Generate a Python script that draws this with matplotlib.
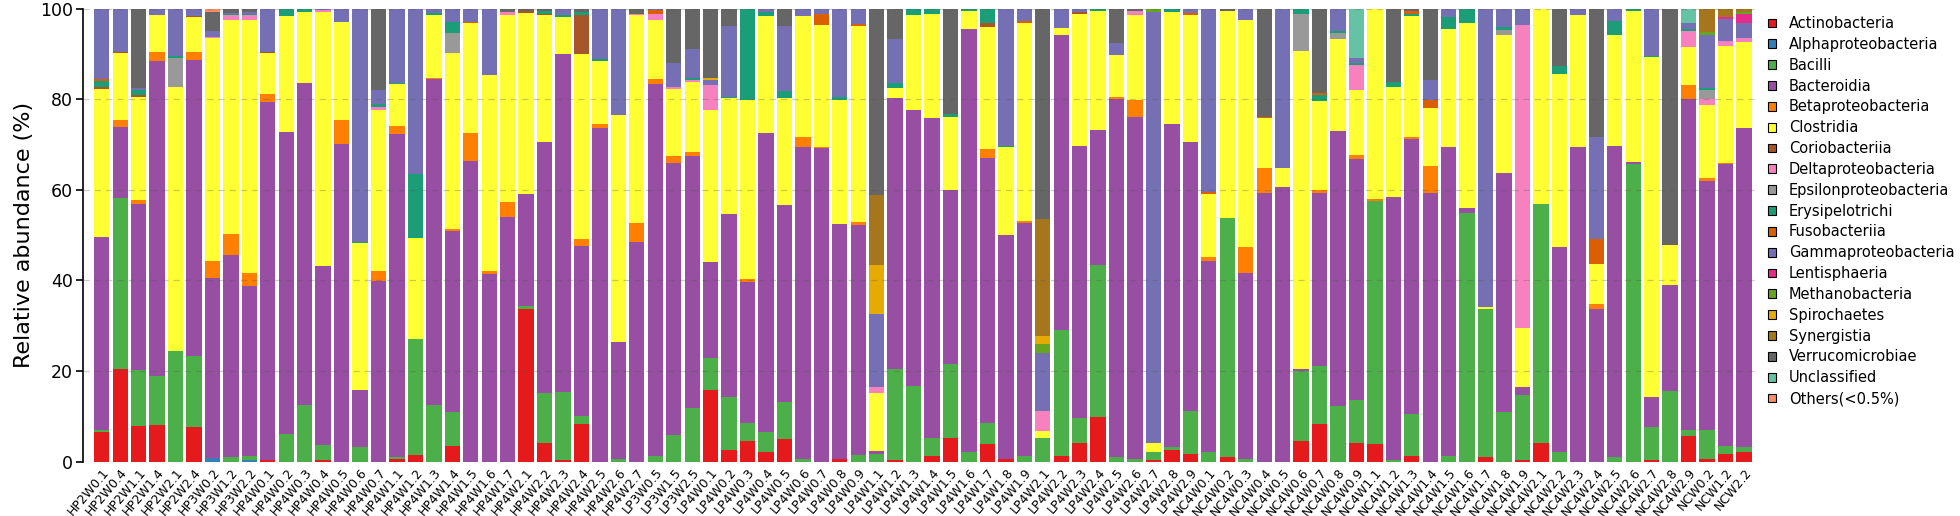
import matplotlib
matplotlib.use("Agg")
import matplotlib.pyplot as plt
import numpy as np
from matplotlib.patches import Patch

samples = [
    "HP2W0.1", "HP2W0.4", "HP2W1.1", "HP2W1.4", "HP2W2.1", "HP2W2.4",
    "HP3W0.2", "HP3W1.2", "HP3W2.2",
    "HP4W0.1", "HP4W0.2", "HP4W0.3", "HP4W0.4", "HP4W0.5", "HP4W0.6", "HP4W0.7",
    "HP4W1.1", "HP4W1.2", "HP4W1.3", "HP4W1.4", "HP4W1.5", "HP4W1.6", "HP4W1.7",
    "HP4W2.1", "HP4W2.2", "HP4W2.3", "HP4W2.4", "HP4W2.5", "HP4W2.6", "HP4W2.7",
    "LP3W0.5", "LP3W1.5", "LP3W2.5",
    "LP4W0.1", "LP4W0.2", "LP4W0.3", "LP4W0.4", "LP4W0.5", "LP4W0.6", "LP4W0.7", "LP4W0.8", "LP4W0.9",
    "LP4W1.1", "LP4W1.2", "LP4W1.3", "LP4W1.4", "LP4W1.5", "LP4W1.6", "LP4W1.7", "LP4W1.8", "LP4W1.9",
    "LP4W2.1", "LP4W2.2", "LP4W2.3", "LP4W2.4", "LP4W2.5", "LP4W2.6", "LP4W2.7", "LP4W2.8", "LP4W2.9",
    "NC4W0.1", "NC4W0.2", "NC4W0.3", "NC4W0.4", "NC4W0.5", "NC4W0.6", "NC4W0.7", "NC4W0.8", "NC4W0.9",
    "NC4W1.1", "NC4W1.2", "NC4W1.3", "NC4W1.4", "NC4W1.5", "NC4W1.6", "NC4W1.7", "NC4W1.8", "NC4W1.9",
    "NC4W2.1", "NC4W2.2", "NC4W2.3", "NC4W2.4", "NC4W2.5", "NC4W2.6", "NC4W2.7", "NC4W2.8", "NC4W2.9",
    "NCW0.2", "NCW1.2", "NCW2.2",
]

# dense classes, one value per sample (%)
actinobacteria = [
    6.6, 20.4, 7.9, 8.1, 0, 7.6, 0, 0, 0, 0.3,
    0, 0, 0.3, 0, 0, 0, 0.5, 1.5, 0, 3.5,
    0, 0, 0, 33.7, 4.2, 0.4, 8.2, 0, 0, 0,
    0, 0, 0, 15.8, 2.6, 4.6, 2.2, 4.9, 0, 0,
    0.6, 0, 0, 0.4, 0, 1.3, 5.3, 0, 3.8, 0.6,
    0, 0, 1.3, 4.2, 9.8, 0, 0, 0.4, 2.6, 1.7,
    0, 0.9, 0, 0, 0, 4.6, 8.2, 0, 4.2, 3.8,
    0, 1.3, 0, 0, 0, 1.0, 0, 0.4, 4.0, 0,
    0, 0, 0, 0, 0.4, 0, 5.7, 0.5, 1.7, 2.2,
]
bacilli = [
    0.4, 37.9, 12.4, 10.8, 24.4, 15.7, 0, 1.0, 1.0, 0,
    6.1, 12.5, 3.3, 0, 3.3, 0, 0.4, 25.6, 12.5, 7.4,
    0, 0, 0, 0.6, 11.0, 14.9, 1.8, 0, 0.5, 0,
    1.3, 5.9, 11.8, 7.1, 11.6, 4.0, 4.4, 8.3, 0.6, 0,
    0, 1.5, 1.7, 20.0, 16.6, 3.8, 16.2, 2.2, 4.8, 0,
    1.3, 5.3, 27.8, 5.5, 33.7, 1.1, 0.6, 1.6, 0.6, 9.5,
    2.1, 52.9, 0.6, 0, 0, 15.4, 13.0, 12.3, 9.4, 53.8,
    0.4, 9.2, 0, 1.3, 55.0, 32.7, 10.9, 14.4, 52.9, 2.1,
    0, 0, 1.1, 65.8, 7.2, 15.6, 1.3, 6.5, 1.8, 1.0,
]
bacteroidia = [
    42.7, 15.7, 36.6, 69.5, 0, 65.4, 39.8, 44.7, 37.5, 79.2,
    66.8, 71.2, 39.7, 70.2, 12.5, 39.8, 71.5, 0, 72.0, 40.1,
    66.5, 41.4, 54.0, 24.9, 55.4, 74.7, 37.6, 73.6, 25.8, 48.4,
    82.1, 60.0, 55.8, 21.2, 40.5, 31.1, 66.1, 43.4, 69.0, 69.2,
    51.9, 50.7, 0.7, 59.9, 61.1, 70.9, 38.4, 93.4, 58.4, 49.5,
    51.5, 0, 65.2, 60.1, 29.7, 78.9, 75.6, 0, 71.4, 59.5,
    42.1, 0, 41.0, 59.4, 60.6, 0.4, 38.1, 60.8, 53.2, 0,
    58.0, 60.8, 59.3, 68.3, 1.0, 0, 52.8, 1.6, 0, 45.3,
    69.4, 33.7, 68.6, 0.4, 6.6, 23.3, 73.0, 54.9, 62.2, 70.5,
]
betaproteobacteria = [
    0, 1.5, 0.9, 2.0, 0, 1.8, 3.7, 4.6, 2.8, 1.7,
    0, 0, 0, 5.3, 0, 2.2, 1.7, 0, 0.3, 0.4,
    6.0, 0.7, 3.4, 0, 0, 0, 1.5, 1.0, 0, 4.3,
    1.1, 1.7, 0.7, 0, 0, 0.6, 0, 0, 2.1, 0.4,
    0, 0.7, 0, 0, 0, 0, 0, 0, 2.1, 0,
    0.4, 0, 0, 0, 0, 0.6, 3.7, 0, 0, 0,
    1.1, 0, 5.7, 5.4, 0, 0, 0.6, 0, 0.9, 0.4,
    0, 0.5, 5.9, 0, 0, 0, 0, 0, 0, 0,
    0, 1.2, 0, 0, 0, 0, 3.3, 0.7, 0.3, 0,
]
clostridia = [
    32.6, 14.7, 22.8, 8.3, 58.4, 7.7, 49.3, 47.3, 56.0, 9.0,
    25.5, 15.7, 56.1, 21.7, 32.4, 35.7, 9.4, 22.3, 13.8, 38.9,
    24.4, 43.4, 41.3, 39.9, 28.0, 8.3, 40.9, 13.9, 50.3, 45.9,
    13.1, 14.7, 15.6, 33.5, 25.6, 39.5, 25.8, 23.8, 26.8, 26.8,
    27.4, 43.4, 12.8, 2.2, 21.0, 23.0, 16.2, 4.0, 26.9, 19.3,
    43.7, 1.5, 1.5, 29.2, 26.4, 9.2, 18.8, 2.2, 24.8, 28.0,
    13.8, 45.8, 50.2, 11.0, 4.3, 70.4, 19.8, 20.2, 14.4, 42.0,
    24.4, 26.7, 12.9, 25.9, 40.8, 0.4, 30.6, 13.1, 43.1, 38.3,
    29.3, 8.8, 24.5, 33.4, 75.1, 9.0, 8.3, 16.2, 25.8, 18.9,
]
erysipelotrichi = [
    1.3, 0, 1.3, 0, 0.4, 0, 0, 0.3, 0.4, 0,
    1.6, 0.6, 0, 0, 0.2, 0.6, 0.2, 14.2, 0.6, 2.4,
    0, 0, 0, 0, 0.5, 0.4, 0.7, 0.4, 0, 0,
    0, 0, 0.4, 0, 0.2, 20.2, 0.8, 1.5, 0, 0,
    0.7, 0, 0, 1.1, 1.3, 1.0, 0.7, 0.4, 3.1, 0.4,
    0, 0, 0, 0, 0.4, 0, 0, 0, 0.6, 0,
    0, 0, 0, 0, 0, 1.0, 1.3, 0.5, 0.5, 0,
    1.1, 0.5, 0, 2.8, 3.2, 0, 0.6, 0, 0, 1.8,
    0, 0, 3.2, 0.4, 0.4, 0, 0.4, 0.5, 0, 0,
]
gammaproteobacteria = [
    15.4, 9.5, 0.4, 1.3, 10.5, 1.5, 1.3, 0.2, 0.3, 9.6,
    0, 0, 0.3, 2.8, 51.6, 3.2, 16.3, 36.4, 0.8, 2.9,
    2.8, 14.5, 0, 0, 0, 1.3, 0, 11.1, 23.4, 0,
    0.2, 5.4, 6.5, 1.3, 15.8, 0, 0.7, 14.4, 1.5, 1.0,
    19.4, 3.3, 16.2, 9.7, 0, 0, 0, 0, 0, 30.2,
    2.7, 12.7, 4.2, 0.6, 0, 2.6, 0, 95.2, 0, 0.9,
    40.5, 0, 2.5, 0, 35.1, 0, 0, 4.9, 1.0, 0,
    0, 0, 4.4, 1.7, 0, 65.9, 4.0, 3.5, 0, 0,
    1.3, 22.5, 2.6, 0, 10.3, 0, 1.3, 11.8, 4.9, 3.2,
]
verrucomicrobiae = [
    0, 0, 17.4, 0, 0, 0, 4.2, 0.9, 0.7, 0,
    0, 0, 0, 0, 0, 17.8, 0, 0, 0, 0,
    0, 0, 0.7, 0.4, 0.5, 0, 0.6, 0, 0, 1.0,
    0, 11.9, 8.8, 15.2, 3.7, 0, 0, 3.7, 0, 0,
    0, 0, 41.2, 6.7, 0, 0, 23.2, 0, 0, 0,
    0, 46.3, 0, 0, 0, 7.6, 0.4, 0, 0, 0,
    0, 0.4, 0, 23.8, 0, 0, 18.6, 0, 0, 0,
    16.1, 0.5, 15.7, 0, 0, 0, 0, 0, 0, 12.5,
    0, 28.4, 0, 0, 0, 52.1, 0, 0, 0, 0,
]

# minor classes, only the samples where they show up
alphaproteobacteria = {"HP3W0.2": 0.7, "HP3W2.2": 0.3}
coriobacteriia = {"HP2W0.1": 0.5, "HP2W0.4": 0.3, "HP2W1.1": 0.3, "HP2W2.4": 0.3,
                  "HP4W0.1": 0.2, "HP4W2.1": 0.5, "HP4W2.2": 0.4, "HP4W2.4": 8.7,
                  "LP4W1.7": 0.9, "LP4W2.3": 0.4}
deltaproteobacteria = {"HP3W0.2": 0.3, "HP3W1.2": 1.0, "HP3W2.2": 1.0, "HP4W0.4": 0.3,
                       "HP4W0.7": 0.7, "HP4W1.7": 0.6, "HP4W2.7": 0.4, "LP3W0.5": 1.3,
                       "LP3W1.5": 0.4, "LP3W2.5": 0.4, "LP4W0.1": 5.5, "LP4W1.1": 1.3,
                       "LP4W2.1": 4.4, "LP4W2.6": 0.9, "NC4W0.9": 5.5, "NC4W1.9": 67.0,
                       "NC4W2.9": 3.5, "NCW0.2": 1.3, "NCW1.2": 1.1, "NCW2.2": 1.0}
epsilonproteobacteria = {"HP2W2.1": 6.3, "HP4W1.4": 4.4, "NC4W0.6": 8.2, "NC4W0.8": 1.3,
                         "NC4W1.8": 1.1, "NCW0.2": 1.9}
fusobacteriia = {"HP2W0.1": 0.5, "HP4W1.5": 0.3, "LP3W0.5": 0.9, "LP4W0.7": 2.6,
                 "LP4W0.9": 0.4, "LP4W1.9": 0.4, "LP4W2.9": 0.4, "NC4W0.1": 0.4,
                 "NC4W0.4": 0.4, "NC4W0.7": 0.4, "NC4W1.3": 0.5, "NC4W1.4": 1.8,
                 "NC4W2.4": 5.4}
lentisphaeria = {"NCW1.2": 0.5, "NCW2.2": 2.0}
methanobacteria = {"LP4W2.1": 2.0, "LP4W2.7": 0.6, "NCW0.2": 0.7, "NCW2.2": 0.6}
spirochaetes = {"LP4W0.1": 0.4, "LP4W1.1": 10.8, "LP4W2.1": 1.8}
synergistia = {"LP4W1.1": 15.3, "LP4W2.1": 26.0, "NCW0.2": 5.0, "NCW1.2": 1.7, "NCW2.2": 0.6}
unclassified = {"NC4W0.9": 10.9, "NC4W2.9": 3.2}
others = {"HP3W0.2": 0.7}


def full(d):
    return [d.get(s, 0) for s in samples]


taxa = [
    ("Actinobacteria", actinobacteria, "#E41A1C"),
    ("Alphaproteobacteria", full(alphaproteobacteria), "#377EB8"),
    ("Bacilli", bacilli, "#4DAF4A"),
    ("Bacteroidia", bacteroidia, "#984EA3"),
    ("Betaproteobacteria", betaproteobacteria, "#FF7F00"),
    ("Clostridia", clostridia, "#FFFF33"),
    ("Coriobacteriia", full(coriobacteriia), "#A65628"),
    ("Deltaproteobacteria", full(deltaproteobacteria), "#F781BF"),
    ("Epsilonproteobacteria", full(epsilonproteobacteria), "#999999"),
    ("Erysipelotrichi", erysipelotrichi, "#1B9E77"),
    ("Fusobacteriia", full(fusobacteriia), "#D95F02"),
    ("Gammaproteobacteria", gammaproteobacteria, "#7570B3"),
    ("Lentisphaeria", full(lentisphaeria), "#E7298A"),
    ("Methanobacteria", full(methanobacteria), "#66A61E"),
    ("Spirochaetes", full(spirochaetes), "#E6AB02"),
    ("Synergistia", full(synergistia), "#A6761D"),
    ("Verrucomicrobiae", verrucomicrobiae, "#666666"),
    ("Unclassified", full(unclassified), "#66C2A5"),
    ("Others(<0.5%)", full(others), "#FC8D62"),
]

vals = np.array([t[1] for t in taxa], dtype=float)
vals = vals / vals.sum(axis=0) * 100  # relative abundance per sample

fig = plt.figure(figsize=(19.6, 5.16), dpi=100)
ax = fig.add_axes([0.0422, 0.1056, 0.8532, 0.877])

x = np.arange(len(samples))
bottom = np.zeros(len(samples))
for (name, _, col), v in zip(taxa, vals):
    ax.bar(x, v, bottom=bottom, width=0.83, color=col, edgecolor="none", zorder=1)
    bottom += v

ax.set_xlim(-1.03, len(samples) - 0.4)
ax.set_ylim(0, 100)
ax.set_yticks([0, 20, 40, 60, 80, 100])
ax.yaxis.grid(True, linestyle=(0, (5, 4)), color="#555555", alpha=0.3, linewidth=0.9)
ax.set_axisbelow(False)

for s in ["top", "right", "bottom"]:
    ax.spines[s].set_visible(False)
ax.spines["left"].set_linewidth(1.2)
ax.spines["left"].set_bounds(0, 100)

ax.tick_params(axis="y", labelsize=12.5, length=5, width=1.2, pad=2)
ax.tick_params(axis="x", length=0, pad=3)
ax.set_xticks(x)
ax.set_xticklabels(samples, rotation=50, ha="right", rotation_mode="anchor", fontsize=9)
ax.set_ylabel("Relative abundance (%)", fontsize=16, labelpad=4)

handles = [Patch(facecolor=t[2], edgecolor="black", linewidth=0.8) for t in taxa]
fig.legend(handles, [t[0] for t in taxa], loc="upper left",
           bbox_to_anchor=(0.899, 0.98), frameon=False, fontsize=10.5,
           handlelength=0.55, handleheight=0.55, handletextpad=0.9,
           labelspacing=0.4, borderaxespad=0)

fig.savefig("out.png", dpi=100)
